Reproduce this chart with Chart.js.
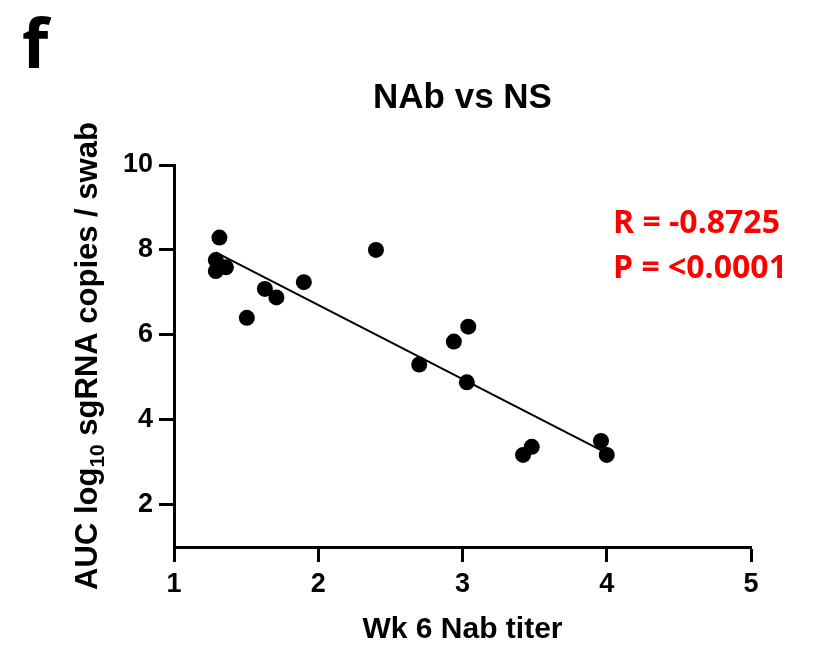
<!DOCTYPE html>
<html>
<head>
<meta charset="utf-8">
<script src="https://cdn.jsdelivr.net/npm/chart.js@4.4.1/dist/chart.umd.min.js"></script>
<style>
  html, body { margin: 0; padding: 0; background: #fff; }
  #wrap { width: 817px; height: 648px; }
</style>
</head>
<body>
<div id="wrap"><canvas id="nsChart" width="817" height="648"></canvas></div>
<script>
// NAb vs NS scatter + regression

const titerX = [1.315, 1.29, 1.29, 1.36, 1.505, 1.63, 1.71, 1.90, 2.40, 2.70, 2.94, 3.04, 3.03, 3.42, 3.48, 3.96, 4.00];
const aucY   = [8.29, 7.76, 7.50, 7.59, 6.40, 7.08, 6.88, 7.24, 8.00, 5.30, 5.84, 6.19, 4.88, 3.17, 3.36, 3.50, 3.17];

const fitX = [1.29, 4.00];
const fitY = [7.94, 3.21];

const yTicks = [2, 4, 6, 8, 10];
const xTicks = [1, 2, 3, 4, 5];

const panelLetter = "f";
const chartTitle = "NAb vs NS";
const xTitle = "Wk 6 Nab titer";
const yTitleParts = ["AUC log", "10", " sgRNA copies / swab"];
const statsText = ["R = -0.8725", "P = <0.0001"];

const ARIAL = '"Liberation Sans", Arial, sans-serif';

const points = titerX.map((x, i) => ({ x, y: aucY[i] }));
const fitLine = fitX.map((x, i) => ({ x, y: fitY[i] }));

// extra text drawn on top (panel letter, title, y title with subscript, stats)
const textPlugin = {
  id: 'textPlugin',
  afterDraw(chart) {
    const ctx = chart.ctx;
    const area = chart.chartArea;
    ctx.save();

    // panel letter
    ctx.fillStyle = '#000';
    ctx.font = 'bold 68px "Open Sans", sans-serif';
    ctx.textAlign = 'left';
    ctx.textBaseline = 'alphabetic';
    ctx.fillText(panelLetter, 22, 68);

    // chart title
    ctx.font = 'bold 35px ' + ARIAL;
    ctx.textAlign = 'center';
    ctx.fillText(chartTitle, (area.left + area.right) / 2, 108);

    // y title, rotated, with subscript 10
    const mainFont = 'bold 31px ' + ARIAL;
    const subFont = 'bold 21px ' + ARIAL;
    ctx.font = mainFont;
    const w0 = ctx.measureText(yTitleParts[0]).width;
    const w2 = ctx.measureText(yTitleParts[2]).width;
    ctx.font = subFont;
    const w1 = ctx.measureText(yTitleParts[1]).width;
    const total = w0 + w1 + w2;
    ctx.translate(97, 356);
    ctx.rotate(-Math.PI / 2);
    ctx.textAlign = 'left';
    let u = -total / 2;
    ctx.font = mainFont;
    ctx.fillText(yTitleParts[0], u, 0);
    u += w0;
    ctx.font = subFont;
    ctx.fillText(yTitleParts[1], u, 7);
    u += w1;
    ctx.font = mainFont;
    ctx.fillText(yTitleParts[2], u, 0);
    ctx.setTransform(1, 0, 0, 1, 0, 0);

    // R / P annotation
    ctx.fillStyle = '#ff0000';
    ctx.font = 'bold 32px "Open Sans", sans-serif';
    ctx.textAlign = 'left';
    ctx.fillText(statsText[0], 613, 233);
    ctx.fillText(statsText[1], 613, 278);

    ctx.restore();
  }
};

const ctx = document.getElementById('nsChart').getContext('2d');
new Chart(ctx, {
  type: 'scatter',
  data: {
    datasets: [
      {
        label: 'NAb vs NS',
        data: points,
        backgroundColor: '#000',
        borderWidth: 0,
        pointRadius: 8,
        order: 1
      },
      {
        label: 'fit',
        type: 'line',
        data: fitLine,
        borderColor: '#000',
        borderWidth: 2,
        pointRadius: 0,
        fill: false,
        order: 2
      }
    ]
  },
  options: {
    responsive: false,
    animation: false,
    layout: { padding: { top: 165, right: 66, bottom: 0, left: 0 } },
    plugins: {
      legend: { display: false },
      tooltip: { enabled: false },
      title: { display: false }
    },
    scales: {
      x: {
        type: 'linear',
        min: 1,
        max: 5,
        afterFit: s => { s.height = 101; },
        afterBuildTicks: s => { s.ticks = xTicks.map(v => ({ value: v })); },
        ticks: {
          color: '#000',
          font: { family: ARIAL, size: 27, weight: 'bold' },
          padding: 6
        },
        grid: {
          drawOnChartArea: false,
          drawTicks: true,
          tickLength: 15,
          tickWidth: 3,
          tickColor: '#000'
        },
        border: { color: '#000', width: 3 },
        title: {
          display: true,
          text: xTitle,
          color: '#000',
          font: { family: ARIAL, size: 30, weight: 'bold' },
          padding: { top: 0, bottom: 0 }
        }
      },
      y: {
        type: 'linear',
        min: 1,
        max: 10,
        afterFit: s => { s.width = 174; },
        afterBuildTicks: s => { s.ticks = yTicks.map(v => ({ value: v })); },
        ticks: {
          color: '#000',
          font: { family: ARIAL, size: 27, weight: 'bold' },
          padding: 6
        },
        grid: {
          drawOnChartArea: false,
          drawTicks: true,
          tickLength: 15,
          tickWidth: 3,
          tickColor: '#000'
        },
        border: { color: '#000', width: 3 }
      }
    }
  },
  plugins: [textPlugin]
});
</script>
</body>
</html>
